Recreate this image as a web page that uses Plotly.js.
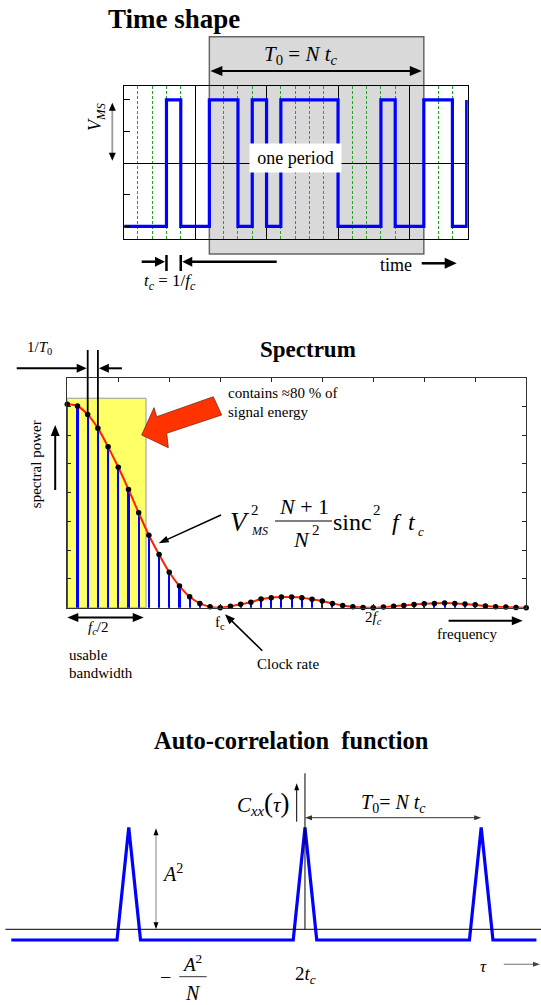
<!DOCTYPE html>
<html>
<head>
<meta charset="utf-8">
<script src="https://cdn.plot.ly/plotly-3.0.1.min.js"></script>
<style>html,body{margin:0;padding:0;background:#fff;}#chart{width:541px;height:1005px;}</style>
</head>
<body>
<div id="chart"></div>
<script>
// ---------------- DATA ----------------
// Time shape: one chip per clock period t_c (m-sequence, N = 15)
const chipEdges = [0,1,2,3,4,5,6,7,8,9,10,11,12,13,14,15,16,17,18,19,20,21,22,23,24];
const chipLevels = [-1,-1,-1,1,-1,-1,1,1,-1,1,-1,1,1,1,1,-1,-1,-1,1,-1,-1,1,1,-1,1];
const periodStart = 6, periodEnd = 21;

// Spectrum: harmonic index k (multiples of 1/T0), spectral power
const harmonic = [0,1,2,3,4,5,6,7,8,9,10,11,12,13,14,15,16,17,18,19,20,21,22,23,24,25,26,27,28,29,30,31,32,33,34,35,36,37,38,39,40,41,42,43,44,45];
const spectralPower = [7.07,7.01,6.71,6.24,5.59,4.88,4.11,3.30,2.52,1.85,1.23,0.75,0.38,0.15,0.03,0.0,
                       0.05,0.12,0.19,0.30,0.35,0.37,0.37,0.35,0.29,0.23,0.15,0.08,0.03,0.01,0.0,
                       0.02,0.05,0.08,0.11,0.14,0.15,0.16,0.15,0.13,0.10,0.06,0.03,0.02,0.01,0.0];
const usableBand = {k: 7.72, top: 7.28};
const halfClock = 7.5, clockK = 15, twiceClockK = 30;

// Auto-correlation: lag in chips, normalised correlation
const lagChips = [-25,-16,-15,-14,-1,0,1,14,15,16,19.7];
const correlation = [-0.105,-0.105,1,-0.105,-0.105,1,-0.105,-0.105,1,-0.105,-0.105];
const periodLag = 15;

// ---------------- HELPERS ----------------
const W = 541, H = 1005;
const SERIF = 'Liberation Serif, Times New Roman, serif';
const px = x => x / W;
const py = y => 1 - y / H;

function txt(text, x, y, size, extra) {
  return Object.assign({xref:'paper', yref:'paper', x:px(x), y:py(y), text:text, showarrow:false,
    font:{family:SERIF, size:size, color:'black'}, xanchor:'center', yanchor:'middle'}, extra || {});
}
function pathFromPixels(pts, close) {
  return 'M ' + pts.map(p => px(p[0]).toFixed(5) + ',' + py(p[1]).toFixed(5)).join(' L ') + (close === false ? '' : ' Z');
}
// arrow drawn as shapes: line + filled triangular head(s); coordinates in page pixels
function arrowShapes(a) {
  const [tx, ty] = a.from, [hx, hy] = a.to;
  const len = Math.hypot(hx - tx, hy - ty), dx = (hx - tx) / len, dy = (hy - ty) / len;
  const L = a.L || 9, hw = a.hw || 4, lw = a.w || 2;
  const head = (X, Y, ux, uy) => {
    const bx = X - L * ux, by = Y - L * uy;
    return {type:'path', xref:'paper', yref:'paper', layer:'above', fillcolor:a.headColor || a.color || 'black', line:{width:0},
            path:pathFromPixels([[X, Y], [bx - hw * uy, by + hw * ux], [bx + hw * uy, by - hw * ux]])};
  };
  const sx = a.both ? tx + (L - 1) * dx : tx, sy = a.both ? ty + (L - 1) * dy : ty;
  const ex = hx - (L - 1) * dx, ey = hy - (L - 1) * dy;
  const out = [{type:'line', xref:'paper', yref:'paper', layer:'above', x0:px(sx), y0:py(sy), x1:px(ex), y1:py(ey),
                line:{color:a.color || 'black', width:lw}}, head(hx, hy, dx, dy)];
  if (a.both) out.push(head(tx, ty, -dx, -dy));
  return out;
}

// ---------------- TRACES ----------------
const traces = [
  {x:chipEdges, y:chipLevels, xaxis:'x', yaxis:'y', mode:'lines', line:{shape:'hv', color:'#0000ff', width:3.2}, hoverinfo:'skip'},
  {type:'bar', x:harmonic, y:spectralPower, width:0.2, xaxis:'x2', yaxis:'y2', marker:{color:'#0000ff', line:{width:0}}, hoverinfo:'skip'},
  {x:harmonic, y:spectralPower, xaxis:'x2', yaxis:'y2', mode:'lines', line:{shape:'spline', smoothing:0.8, color:'#ff2200', width:2}, cliponaxis:false, hoverinfo:'skip'},
  {x:harmonic, y:spectralPower, xaxis:'x2', yaxis:'y2', mode:'markers', marker:{color:'black', size:5.5}, cliponaxis:false, hoverinfo:'skip'},
  {x:[harmonic[2], harmonic[2], null, harmonic[3], harmonic[3]], y:[8, spectralPower[2], null, 8, spectralPower[3]],
   xaxis:'x2', yaxis:'y2', mode:'lines', line:{color:'black', width:1.8}, hoverinfo:'skip'},
  {x:lagChips, y:correlation, xaxis:'x3', yaxis:'y3', mode:'lines', line:{color:'#0000ff', width:3.2}, hoverinfo:'skip'}
];

// ---------------- SHAPES ----------------
const shapes = [
  {type:'rect', xref:'x', yref:'paper', x0:periodStart, x1:periodEnd, y0:py(254), y1:py(36.7), fillcolor:'#d9d9d9', line:{color:'#666', width:1.5}, layer:'below'},
  {type:'rect', xref:'x2', yref:'y2', x0:0, x1:usableBand.k, y0:0, y1:usableBand.top, fillcolor:'#ffff66', line:{color:'#999', width:1}, layer:'below'},
  {type:'line', xref:'x2', yref:'paper', x0:harmonic[2], x1:harmonic[2], y0:py(350), y1:py(377.5), line:{color:'black', width:1.8}},
  {type:'line', xref:'x2', yref:'paper', x0:harmonic[3], x1:harmonic[3], y0:py(350), y1:py(377.5), line:{color:'black', width:1.8}},
  {type:'line', xref:'x', yref:'paper', x0:3, x1:3, y0:py(255), y1:py(271), line:{color:'black', width:2.5}},
  {type:'line', xref:'x', yref:'paper', x0:4, x1:4, y0:py(255), y1:py(271), line:{color:'black', width:2.5}},
  {type:'path', xref:'paper', yref:'paper', layer:'above', fillcolor:'#ff3300', line:{color:'#7a2a10', width:0.8},
   path:pathFromPixels([[141.7,435],[154,407.7],[156.7,416.7],[213.3,396.7],[221.7,415],[166.7,433.3],[168.3,447.7]])},
  {type:'line', xref:'paper', yref:'paper', x0:px(275), x1:px(332), y0:py(521), y1:py(521), line:{color:'#555', width:1.3}},
  {type:'line', xref:'paper', yref:'paper', x0:px(179.3), x1:px(206.7), y0:py(976.7), y1:py(976.7), line:{color:'#333', width:1}},
  {type:'line', xref:'x3', yref:'y3', x0:-25.5, x1:20.09, y0:0, y1:0, line:{color:'black', width:1}},
  {type:'line', xref:'x3', yref:'y3', x0:0, x1:0, y0:0, y1:1.53, line:{color:'black', width:1}}
];

// ---------------- ANNOTATIONS (text only) ----------------
const ann = [
  // Time shape
  txt('<b>Time shape</b>', 173.5, 19, 27),
  txt('<i>T</i><sub>0</sub> = <i>N t</i><sub><i>c</i></sub>', 300, 55, 21),
  txt('<i>V</i><sub><i>MS</i></sub>', 97, 117, 18, {textangle:-90}),
  txt('one period', 295, 157.5, 18, {bgcolor:'white', width:91, height:28, borderpad:0}),
  txt('time', 396, 265, 18),
  txt('<i>t</i><sub><i>c</i></sub> = 1/<i>f</i><sub><i>c</i></sub>', 169.5, 282, 17),

  // Spectrum
  txt('<b>Spectrum</b>', 307.8, 349, 23),
  txt('1/<i>T</i><sub>0</sub>', 39, 348, 15),
  txt('contains ≈80 % of', 226, 393.3, 15, {xanchor:'left'}),
  txt('signal energy', 226, 411.7, 15, {xanchor:'left'}),
  txt('<i>V</i>', 240, 522, 27),
  txt('2', 254.5, 510, 15),
  txt('<i>MS</i>', 259, 531, 12),
  txt('<i>N</i> + 1', 303.5, 506, 22),
  txt('<i>N</i>', 301, 539, 22),
  txt('2', 316, 530, 15),
  txt('sinc', 352, 522, 24),
  txt('2', 377, 510, 15),
  txt('<i>f</i>', 397, 522, 24),
  txt('<i>t</i>', 412, 522, 24),
  txt('<i>c</i>', 421, 531, 13),
  txt('spectral power', 36.2, 464, 15, {textangle:-90}),
  txt('<i>f</i><sub><i>c</i></sub>/2', 98.3, 628, 15),
  txt('usable', 67.3, 655, 15, {xanchor:'left'}),
  txt('bandwidth', 67.3, 673.3, 15, {xanchor:'left'}),
  {xref:'x2', yref:'paper', x:clockK, y:py(623), text:'f<sub>c</sub>', showarrow:false, font:{family:SERIF, size:15, color:'black'}, xanchor:'center', yanchor:'middle'},
  {xref:'x2', yref:'paper', x:twiceClockK, y:py(618.3), text:'2<i>f</i><sub><i>c</i></sub>', showarrow:false, font:{family:SERIF, size:15, color:'black'}, xanchor:'center', yanchor:'middle'},
  txt('Clock rate', 288, 664.3, 15),
  txt('frequency', 467.5, 634, 15),

  // Auto-correlation
  txt('<b>Auto-correlation\u00a0 function</b>', 291.6, 740, 24.5),
  txt('<i>C</i><sub><i>xx</i></sub><span style="font-size:27px">(</span><i>τ</i><span style="font-size:27px">)</span>', 291.7, 803.3, 21, {xanchor:'right'}),
  txt('<i>T</i><sub>0</sub>= <i>N t</i><sub><i>c</i></sub>', 393.4, 803.3, 20),
  txt('<i>A</i><sup>2</sup>', 172.5, 873.3, 20),
  txt('−', 165.8, 976.7, 20),
  txt('<i>A</i><sup>2</sup>', 192, 963.3, 19),
  txt('<i>N</i>', 193.3, 993.3, 20),
  txt('2<i>t</i><sub><i>c</i></sub>', 305, 975, 19),
  txt('<i>τ</i>', 483, 966, 17)
];

// ---------------- LAYOUT ----------------
const layout = {
  width:W, height:H, margin:{l:0, r:0, t:0, b:0}, paper_bgcolor:'white', plot_bgcolor:'rgba(0,0,0,0)',
  showlegend:false, bargap:0,
  xaxis:{domain:[px(124.3), px(467.7)], range:[0.05, 24.07], anchor:'y', showline:true, mirror:true, linecolor:'black', linewidth:1,
         showgrid:true, gridcolor:'black', gridwidth:1, tick0:0, dtick:5, ticks:'', showticklabels:false, zeroline:false,
         minor:{tick0:0, dtick:1, showgrid:true, gridcolor:'#2aa02a', griddash:'3px,2px', gridwidth:1}},
  yaxis:{domain:[py(239), py(86)], range:[-1.2, 1.22], anchor:'x', showline:true, mirror:true, linecolor:'black', linewidth:1,
         showgrid:false, zeroline:true, zerolinecolor:'black', zerolinewidth:1, tickvals:[-1,-0.5,0.5,1], ticks:'inside', ticklen:6,
         tickcolor:'black', showticklabels:false},
  xaxis2:{domain:[px(67.3), px(526.2)], range:[0, 45], anchor:'y2', showline:true, mirror:'ticks', linecolor:'#333', linewidth:1,
          showgrid:false, zeroline:false, tick0:0, dtick:5, ticks:'inside', ticklen:4, tickcolor:'#222', showticklabels:false},
  yaxis2:{domain:[py(607.7), py(377.5)], range:[0, 8], anchor:'x2', showline:true, mirror:'ticks', linecolor:'#333', linewidth:1,
          showgrid:false, zeroline:false, tick0:0, dtick:1, ticks:'inside', ticklen:4, tickcolor:'#222', showticklabels:false},
  xaxis3:{domain:[0, 1], range:[-25.96, 20.09], anchor:'y3', visible:false},
  yaxis3:{domain:[py(960), py(760)], range:[-0.301, 1.66], anchor:'x3', visible:false},
  shapes:shapes,
  annotations:ann
};

const gd = document.getElementById('chart');
Plotly.newPlot(gd, traces, layout, {staticPlot:true, displayModeBar:false}).then(function () {
  const fl = gd._fullLayout;
  const X = (ax, v) => fl[ax]._offset + fl[ax].l2p(v);
  const arrows = [
    {from:[X('xaxis', periodStart) + 1, 71], to:[X('xaxis', periodEnd) - 2, 71], both:true, w:2, L:12, hw:5},
    {from:[112.3, 160.7], to:[112.3, 102.7], both:true, w:1.8, L:8, hw:3.5, color:'#999', headColor:'black'},
    {from:[421.7, 263.3], to:[456.7, 263.3], w:2.5, L:12, hw:5.5},
    {from:[141.7, 261.7], to:[X('xaxis', 3) - 1.5, 261.7], w:2.5, L:10, hw:5},
    {from:[276.7, 261.7], to:[X('xaxis', 4) + 1.5, 261.7], w:2.5, L:10, hw:5},
    {from:[16.7, 368.3], to:[X('xaxis2', harmonic[2]) - 1, 368.3], w:2, L:10, hw:4.5},
    {from:[X('xaxis2', harmonic[3]) + 24, 368.3], to:[X('xaxis2', harmonic[3]) + 1, 368.3], w:2, L:10, hw:4.5},
    {from:[221, 515], to:[158.7, 543.3], w:1.5, L:10, hw:3.5},
    {from:[55.2, 490], to:[55.2, 425], w:2, L:11, hw:4.5},
    {from:[X('xaxis2', 0), 617.5], to:[X('xaxis2', halfClock), 617.5], both:true, w:2, L:11, hw:4.5},
    {from:[262.3, 650.7], to:[225, 614.3], w:1.6, L:10, hw:4},
    {from:[448.6, 620.7], to:[522.8, 620.7], w:2, L:11, hw:4.5},
    {from:[296.7, 821.7], to:[296.7, 783.3], w:1, L:7, hw:2.5},
    {from:[X('xaxis3', 0), 817.7], to:[X('xaxis3', periodLag), 817.7], both:true, w:1, L:7, hw:2.5, color:'#333'},
    {from:[156, 929.3], to:[156, 828.3], both:true, w:1.2, L:7, hw:2.5, color:'#999', headColor:'black'},
    {from:[503.8, 964.3], to:[540, 964.3], w:1.2, L:7, hw:2.5, color:'#888', headColor:'#444'}
  ];
  let extra = [];
  arrows.forEach(a => { extra = extra.concat(arrowShapes(a)); });
  return Plotly.relayout(gd, {shapes: shapes.concat(extra)});
});
</script>
</body>
</html>
